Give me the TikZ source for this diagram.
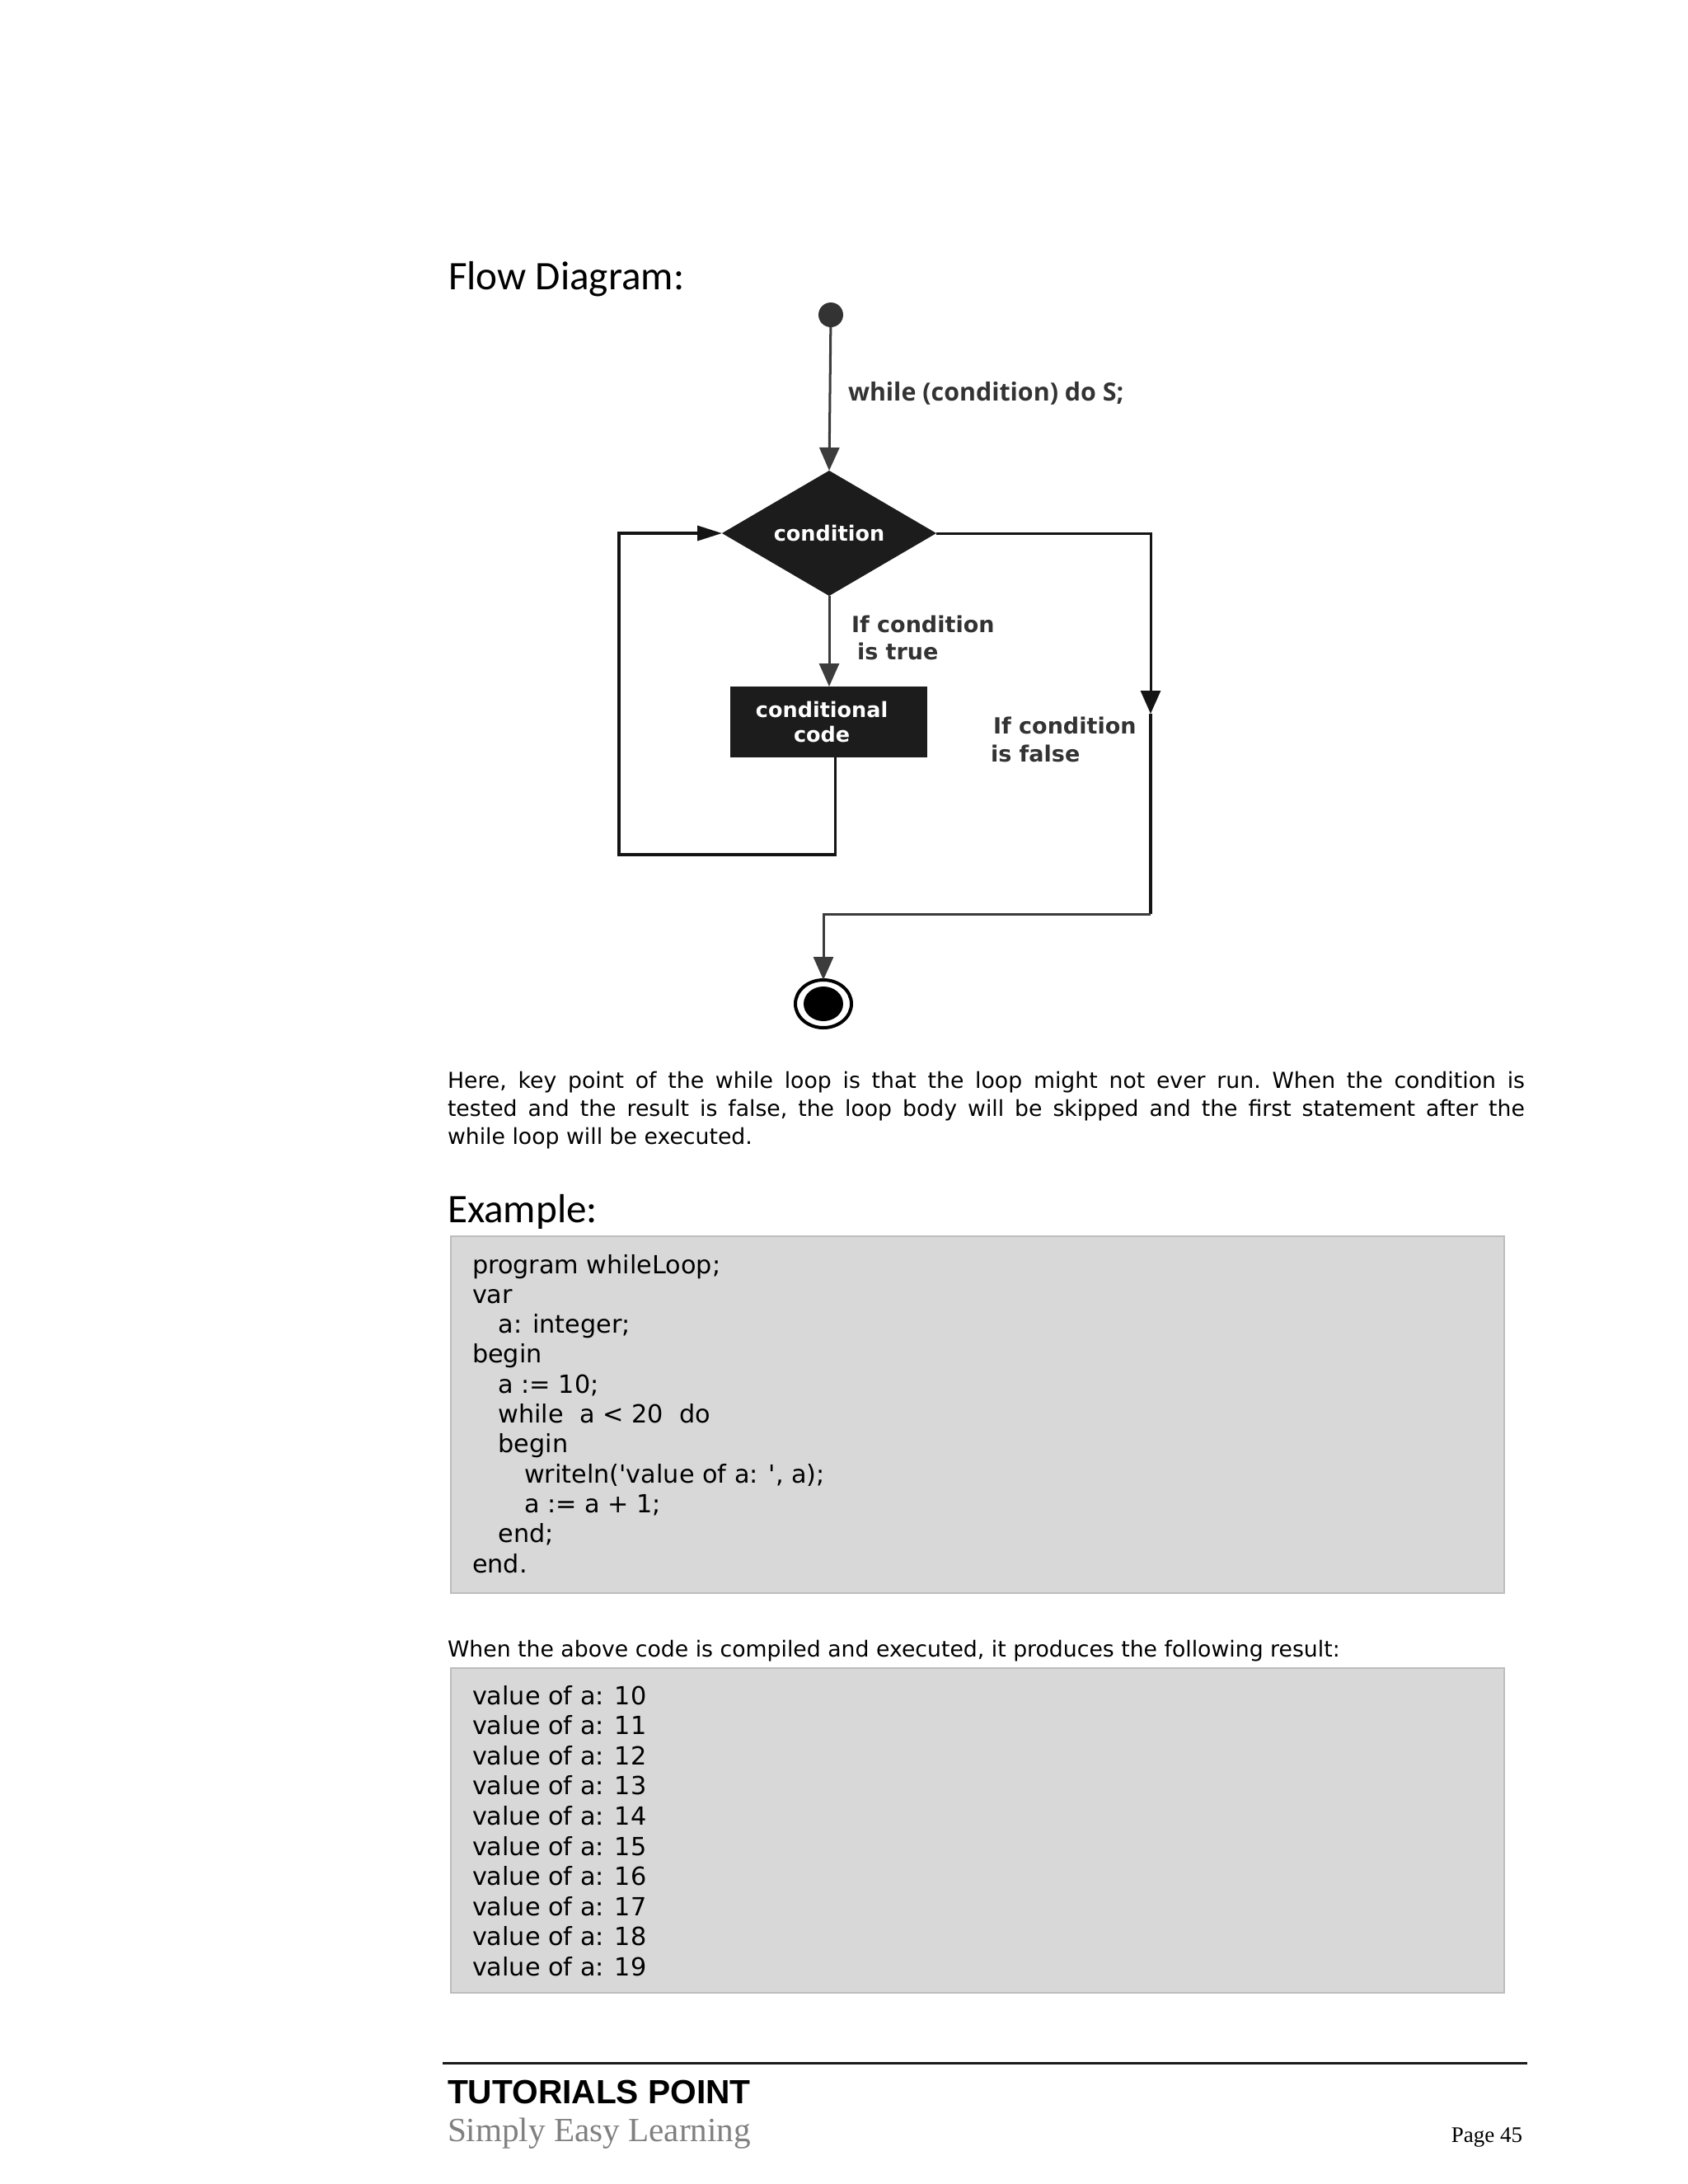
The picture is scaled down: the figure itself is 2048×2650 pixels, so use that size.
\documentclass[tikz,border=0pt]{standalone}
\usepackage{fontspec}
\usetikzlibrary{shapes.geometric,arrows.meta}
\newfontfamily\headfont{Carlito}
\newfontfamily\bodyfont{DejaVu Sans}
\newfontfamily\whilefont{Open Sans}
\newfontfamily\tpfont{Liberation Sans}
\newfontfamily\serfont{Liberation Serif}
\newcommand\fsz[2]{\fontsize{#1}{#2}\selectfont}
\definecolor{codebg}{HTML}{D9D8D9}
\definecolor{codeframe}{HTML}{BDBDBD}
\definecolor{diagink}{HTML}{3C3C3C}
\definecolor{labelink}{HTML}{333333}
\definecolor{shapefill}{HTML}{1C1C1C}
\definecolor{footgray}{HTML}{808080}
\frenchspacing
\begin{document}
\begin{tikzpicture}[x=0.29883pt, y=-0.29883pt,
  every node/.style={inner sep=0pt, outer sep=0pt},
  arr/.style={draw=diagink, line width=0.9pt, -{Triangle[length=8.37pt, width=7.17pt]}},
  blackarr/.style={draw=black!92, line width=0.9pt, -{Triangle[length=8.37pt, width=7.17pt]}},
  loopline/.style={draw=black!92, line width=1.05pt, line join=miter},
  heading/.style={anchor=base west, font=\headfont\fsz{14.7pt}{17pt}},
  bodytext/.style={anchor=base west, font=\bodyfont\fsz{7.98pt}{10pt}},
  codeline/.style={anchor=base west, font=\bodyfont\fsz{9.05pt}{11pt}\nonfrenchspacing},
  codebox/.style={fill=codebg, draw=codeframe, line width=0.66pt},
  diaglabel/.style={anchor=base west, align=left, text=labelink, font=\bodyfont\bfseries\fsz{8.07pt}{10pt}},
]
\useasboundingbox[fill=white] (0,0) rectangle (2048,2650);

% ---------- heading ----------
\node[heading] (h1) at (544,351) {Flow Diagram:};

% ---------- flow diagram ----------
\node[circle, fill=labelink, minimum size=8.96pt] (start) at (1008,382) {};
\node[diamond, fill=shapefill, minimum width=77.7pt, minimum height=45.42pt, aspect=1.7,
      text=white, font=\bodyfont\bfseries\fsz{7.62pt}{9pt}] (cond) at (1006,647) {condition};
\node[fill=shapefill, minimum width=71.42pt, minimum height=25.7pt, align=center,
      text=white, font=\bodyfont\bfseries\fsz{7.62pt}{9pt}] (box) at (1005.5,876) {conditional\hspace*{5pt}\\code\hspace*{5pt}};
\node[ellipse, draw=black, line width=1.2pt, minimum width=20.32pt, minimum height=17.33pt] (end) at (999,1218) {};
\node[ellipse, fill=black, minimum width=14.34pt, minimum height=12.55pt] (endin) at (end.center) {};

\coordinate (lb) at (751,1037);
\coordinate (fmid) at (1396,866);
\coordinate (fbot) at (1396,1109);

\draw[arr] (start) -- (cond.north);
\draw[arr] (cond.south) -- (cond.south |- box.north);
\draw[loopline, -{Triangle[length=8.96pt, width=5.38pt]}] ([xshift=2.39pt]box.south) |- (lb) |- (cond.west);
\draw[blackarr] (cond.east) -| (fmid);
\draw[loopline] (fmid) -- (fbot);
\draw[arr] (fbot) -| (end.north);

\node[anchor=base west, text=labelink, font=\whilefont\bfseries\fsz{9.08pt}{11pt}] (wlab) at (1029,486) {while (condition) do S;};
\node[diaglabel] (tlab1) at (1033,767) {If condition};
\node[diaglabel] (tlab2) at (1040,800) {is true};
\node[diaglabel] (flab1) at (1205,890) {If condition};
\node[diaglabel] (flab2) at (1202,924) {is false};

% ---------- paragraph ----------
\node[bodytext] (p1) at (543,1320) {\makebox[390.57pt][s]{Here, key point of the while loop is that the loop might not ever run. When the condition is}};
\node[bodytext] (p2) at (543,1354) {\makebox[390.57pt][s]{tested and the result is false, the loop body will be skipped and the first statement after the}};
\node[bodytext] (p3) at (543,1388) {while loop will be executed.};

% ---------- example ----------
\node[heading] (h2) at (543,1483) {Example:};
\draw[codebox] (547,1500) rectangle (1825,1933);
\foreach \ind/\txt [count=\i from 0] in {
  0/{program whileLoop;},
  0/{var},
  1/{a: integer;},
  0/{begin},
  1/{a := 10;},
  1/{while\ \ a < 20\ \ do},
  1/{begin},
  2/{writeln(\textquotesingle value of a: \textquotesingle, a);},
  2/{a := a + 1;},
  1/{end;},
  0/{end.}}
{
  \node[codeline] (code\i) at ({573+31.5*\ind},{1545+36.3*\i}) {\txt};
}

\node[bodytext] (w1) at (543,2010) {When the above code is compiled and executed, it produces the following result:};
\draw[codebox] (547,2024) rectangle (1825,2418);
\foreach \v [count=\i from 0] in {10,11,12,13,14,15,16,17,18,19}
{
  \node[codeline] (out\i) at (573,{2068+36.6*\i}) {value of a: \v};
}

% ---------- footer ----------
\draw[line width=0.9pt, black!90] (537,2503) -- (1853,2503);
\node[anchor=base west, font=\tpfont\bfseries\fsz{12.16pt}{14pt}] (tp) at (543,2552) {TUTORIALS POINT};
\node[anchor=base west, text=footgray, font=\serfont\fsz{12.3pt}{14pt}] (sel) at (543,2598) {Simply Easy Learning};
\node[anchor=base east, font=\serfont\fsz{8.07pt}{10pt}] (pg) at (1847,2599) {Page 45};
\end{tikzpicture}
\end{document}
